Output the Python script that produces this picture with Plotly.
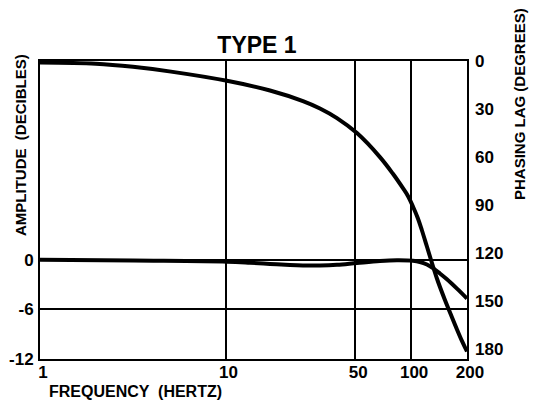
import plotly.graph_objects as go
import math

# ---- data ----
amp_freq = [1, 3.17, 10.17, 13.54, 17.35, 22.23, 26.12, 32.26, 39.83, 51.05, 67.91, 83.86,
            102.26, 111.5, 121.6, 131.1, 142.9, 155.9, 176.6, 200]
amp_db = [0, -0.11, -0.24, -0.37, -0.52, -0.64, -0.69, -0.70, -0.62, -0.40, -0.16, -0.07,
          -0.13, -0.28, -0.59, -1.03, -1.67, -2.37, -3.50, -4.69]

phase_freq = [1, 2.0, 3.17, 5.08, 10.17, 17.35, 26.12, 32.26, 39.83, 51.05, 67.91, 79.8,
              90.33, 96.1, 102.26, 108.8, 114.36, 120.16, 126.3, 137.7, 152.1, 163.9,
              176.6, 187.8, 200]
phase_deg = [1.0, 1.69, 3.62, 6.62, 12.36, 18.41, 25.03, 29.65, 35.64, 45.01, 59.99, 70.41,
             79.40, 84.27, 90.82, 98.31, 105.80, 113.79, 122.03, 135.76, 149.18, 158.42,
             167.54, 174.71, 181.27]

freq_ticks = [1, 10, 50, 100, 200]
amp_ticks = [0, -6, -12]
phase_ticks = [0, 30, 60, 90, 120, 150, 180]

FONT = "Liberation Sans"

fig = go.Figure()
fig.add_trace(go.Scatter(x=amp_freq, y=amp_db, mode="lines",
                         line=dict(color="black", width=4, shape="spline", smoothing=1.0),
                         yaxis="y", showlegend=False, hoverinfo="skip"))
fig.add_trace(go.Scatter(x=phase_freq, y=phase_deg, mode="lines",
                         line=dict(color="black", width=4, shape="spline", smoothing=1.0),
                         yaxis="y2", showlegend=False, hoverinfo="skip"))

tickfont = dict(family=FONT, size=17, color="black", weight="bold")

fig.update_layout(
    width=538, height=402,
    margin=dict(l=40, r=71, t=61, b=43),
    paper_bgcolor="white", plot_bgcolor="white",
    xaxis=dict(type="log", range=[0, math.log10(200)],
               tickvals=freq_ticks, ticktext=[str(v) for v in freq_ticks],
               tickfont=tickfont, showgrid=True, gridcolor="black", gridwidth=1.5,
               showline=True, linecolor="black", linewidth=2, mirror=True,
               ticks="", zeroline=False, ticklabelstandoff=-3, ticklabelshift=3,
               automargin=False),
    yaxis=dict(range=[-12, 24], tickvals=amp_ticks, ticktext=[str(v) for v in amp_ticks],
               tickfont=tickfont, showgrid=True, gridcolor="black", gridwidth=1.5,
               showline=True, linecolor="black", linewidth=2, mirror=True,
               ticks="", zeroline=False, ticklabelstandoff=1, automargin=False),
    yaxis2=dict(overlaying="y", side="right", range=[186, 0],
                tickvals=phase_ticks, ticktext=[str(v) for v in phase_ticks],
                tickfont=tickfont, showgrid=False, showline=False, zeroline=False,
                ticks="", ticklabelstandoff=7, automargin=False),
    title=dict(text="TYPE 1", x=257 / 538, xref="container", xanchor="center",
               y=1 - 44.5 / 402, yref="container", yanchor="middle",
               font=dict(family=FONT, size=23, color="black", weight="bold")),
    annotations=[
        dict(text="AMPLITUDE  (DECIBLES)", xref="paper", yref="paper",
             x=(20 - 40) / 427, y=(359 - 145) / 298, textangle=-90, showarrow=False,
             xanchor="center", yanchor="middle",
             font=dict(family=FONT, size=15, color="black", weight="bold")),
        dict(text="PHASING LAG (DEGREES)", xref="paper", yref="paper",
             x=(520 - 40) / 427, y=(359 - 104) / 298, textangle=-90, showarrow=False,
             xanchor="center", yanchor="middle",
             font=dict(family=FONT, size=15, color="black", weight="bold")),
        dict(text="FREQUENCY  (HERTZ)", xref="paper", yref="paper",
             x=(135 - 40) / 427, y=(359 - 392) / 298, showarrow=False,
             xanchor="center", yanchor="middle",
             font=dict(family=FONT, size=16, color="black", weight="bold")),
    ],
)

fig.write_html("out.html", config={"displayModeBar": False},
               post_script="document.body.style.margin='0';document.body.style.padding='0';")
